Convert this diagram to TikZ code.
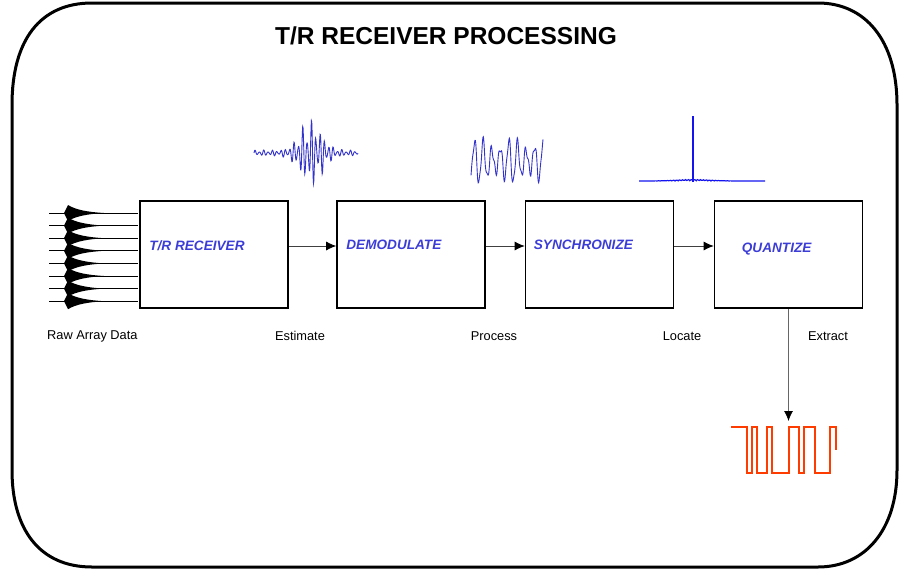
\documentclass[tikz,border=0pt]{standalone}
\usepackage{fontspec}
\setmainfont{Liberation Sans}
\usepackage{tikz}
\usetikzlibrary{arrows.meta,positioning}

\definecolor{lblblue}{RGB}{60,60,215}
\definecolor{wavblue}{RGB}{50,50,205}
\definecolor{spikeblue}{RGB}{20,20,240}
\definecolor{bitred}{RGB}{255,60,0}

\tikzset{
  stagebox/.style={draw=black,line width=1.6pt,minimum width=148pt,minimum height=107pt,inner sep=0pt},
  stagetext/.style={anchor=west,text=lblblue,font=\fontsize{13.6}{15}\selectfont\bfseries\itshape,inner sep=0pt},
  steplabel/.style={font=\fontsize{12.8}{14}\selectfont,inner sep=0pt},
  flow/.style={draw=black!75,line width=0.8pt,-{Latex[length=10pt,width=9pt,color=black]}}
}

\begin{document}
\begin{tikzpicture}[x=1pt,y=-1pt,>=Latex]
\useasboundingbox (0,0) rectangle (899,571);
% outer frame
\draw[line width=3pt] (12,105) .. controls (12,40) and (40,3) .. (92,3) -- (818,3) .. controls (865,3) and (897,40) .. (897,105) -- (897,470) .. controls (897,530) and (865,567) .. (818,567) -- (92,567) .. controls (40,567) and (12,530) .. (12,470) -- cycle;
\node[font=\fontsize{24.5}{28}\selectfont\bfseries] (title) at (446,36) {T/R RECEIVER PROCESSING};

% stages
\node[stagebox] (tr_rcv) at (214,254.5) {};
\node[stagebox] (demod) at (411,254.5) {};
\node[stagebox] (sync) at (599.5,254.5) {};
\node[stagebox] (quant) at (788.5,254.5) {};
\node[stagetext,right=10pt of tr_rcv.west,yshift=8.5pt] (tr_rcv_t) {T/R RECEIVER};
\node[stagetext,right=10pt of demod.west,yshift=9.5pt] (demod_t) {DEMODULATE};
\node[stagetext,right=9pt of sync.west,yshift=9.5pt] (sync_t) {SYNCHRONIZE};
\node[stagetext,right=28pt of quant.west,yshift=5pt] (quant_t) {QUANTIZE};

\draw[flow] ([yshift=8.5pt]tr_rcv.east) -- ([yshift=8.5pt]demod.west);
\draw[flow] ([yshift=8.5pt]demod.east) -- ([yshift=8.5pt]sync.west);
\draw[flow] ([yshift=8.5pt]sync.east) -- ([yshift=8.5pt]quant.west);
\coordinate (bits_in) at (788.5,421);
\draw[flow,draw=black!60] (quant.south) -- (bits_in);

% step labels
\node[steplabel,anchor=west] (lbl_raw) at (47,336) {Raw Array Data};
\node[steplabel] (lbl_est) at (300,336) {Estimate};
\node[steplabel] (lbl_proc) at (494,336) {Process};
\node[steplabel] (lbl_loc) at (682,336) {Locate};
\node[steplabel] (lbl_ext) at (828,336) {Extract};

% raw array traces
\foreach \yy in {213,225.6,238.2,250.8,263.4,276,288.6,301.2} {
  \draw[line width=0.7pt] (49,\yy) -- (138,\yy);
  \fill (64,\yy) -- (68,\yy-8) .. controls (76,\yy-3) and (88,\yy-1) .. (104,\yy) .. controls (88,\yy+1) and (76,\yy+3) .. (68,\yy+8) -- cycle;
}

% received wavelet
\draw[wavblue,line width=0.9pt] plot[domain=254:358,samples=300] (\x,{153-(32*exp(-((\x-311)/15)*((\x-311)/15))+3)*sin((\x-254)*83)*(0.65+0.35*cos((\x-254)*37))});

% demodulated signal
\draw[wavblue,line width=0.9pt] plot[domain=471:543,samples=200,smooth] (\x,{161-22*sin((\x-471)*42-60)*(0.75+0.25*sin((\x-471)*11))-4*sin((\x-471)*95)});

% sync spike
\draw[spikeblue,line width=1.2pt] plot[domain=639:765,samples=120] (\x,{181-1.5*exp(-((\x-693)/25)*((\x-693)/25))*abs(sin((\x-639)*110))});
\draw[spikeblue,line width=1.8pt] (693,182) -- (693,116);

% bit stream
\draw[bitred,line width=1.8pt] (731,427) -- (747,427) -- (747,473) -- (752,473) -- (752,427) -- (757,427) -- (757,473) -- (767,473) -- (767,427) -- (772,427) -- (772,473) -- (789,473) -- (789,427) -- (799,427) -- (799,473) -- (804,473) -- (804,427) -- (815,427) -- (815,473) -- (830,473) -- (830,427) -- (836,427) -- (836,450);
\end{tikzpicture}
\end{document}
